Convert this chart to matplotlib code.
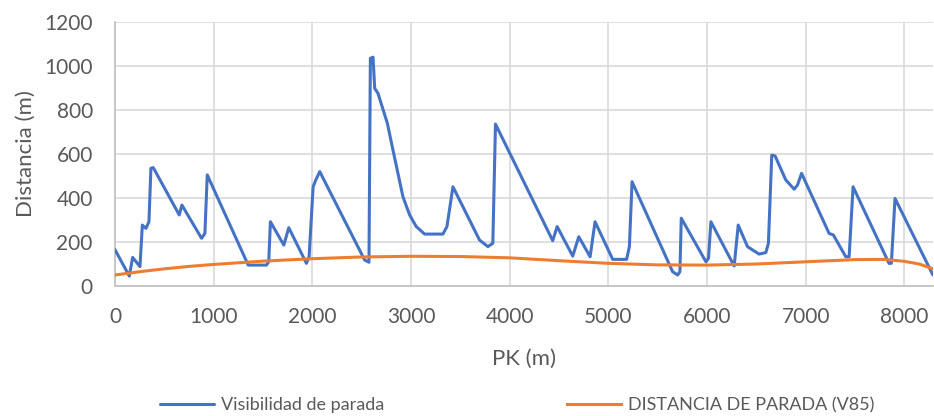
import matplotlib
matplotlib.use("Agg")
import matplotlib.pyplot as plt

pk_vis = [0, 145, 179, 253, 277, 314, 344, 364, 388, 651, 678, 877, 911, 935, 1350, 1535, 1558, 1575,
          1711, 1761, 1940, 1967, 2008, 2035, 2075, 2530, 2574, 2588, 2615, 2632, 2665, 2760, 2817, 2918,
          2986, 3053, 3138, 3323, 3364, 3425, 3694, 3779, 3829, 3856, 4436, 4481, 4639, 4700, 4815, 4865,
          5044, 5185, 5213, 5240, 5651, 5702, 5725, 5739, 5989, 6015, 6039, 6275, 6316, 6410, 6461, 6528,
          6596, 6622, 6656, 6690, 6798, 6883, 6917, 6958, 7237, 7280, 7406, 7440, 7480, 7844, 7868, 7905, 8289]
visibilidad = [165, 45, 130, 88, 277, 262, 292, 535, 538, 323, 368, 217, 239, 505, 95, 95, 110, 292,
               186, 265, 103, 133, 451, 482, 520, 118, 108, 1035, 1040, 898, 876, 740, 618, 406,
               323, 270, 236, 236, 270, 451, 209, 179, 194, 736, 206, 270, 136, 224, 133, 292,
               121, 121, 179, 474, 65, 50, 65, 308, 110, 126, 292, 91, 277, 179, 164, 145,
               152, 194, 595, 591, 482, 440, 459, 512, 239, 232, 133, 133, 451, 103, 103, 398, 50]

pk_dist = [0, 250, 500, 750, 1000, 1500, 2000, 2500, 3000, 3500, 4000, 4500, 5000, 5500, 6000, 6500,
           7000, 7500, 7800, 8000, 8150, 8290]
distancia = [50, 65, 78, 89, 98, 113, 124, 132, 135, 134, 128, 115, 103, 96, 95, 100,
             110, 120, 121, 112, 100, 78]

x_ticks = [0, 1000, 2000, 3000, 4000, 5000, 6000, 7000, 8000]
y_ticks = [0, 200, 400, 600, 800, 1000, 1200]

plt.rcParams['font.family'] = ['Lato', 'DejaVu Sans']

fig = plt.figure(figsize=(9.34, 4.16), dpi=100)
ax = fig.add_axes([115/934, 1 - 286/416, (933 - 115)/934, (286 - 22)/416])

blue = '#4472C4'
orange = '#ED7D31'
ax.plot(pk_vis, visibilidad, color=blue, lw=2.2, solid_joinstyle='round', solid_capstyle='round',
        label='Visibilidad de parada', zorder=3)
ax.plot(pk_dist, distancia, color=orange, lw=2.2, solid_joinstyle='round',
        label='DISTANCIA DE PARADA (V85)', zorder=4)

ax.set_xlim(0, 8290)
ax.set_ylim(0, 1200)
ax.set_xticks(x_ticks)
ax.set_yticks(y_ticks)
ax.grid(True, color='#d9d9d9', lw=1.2)
ax.set_axisbelow(True)
for s in ['top', 'right']:
    ax.spines[s].set_visible(False)
for s in ['left', 'bottom']:
    ax.spines[s].set_color('#bfbfbf')
    ax.spines[s].set_linewidth(1.2)
ax.tick_params(length=0, labelsize=15, colors='#595959')
ax.tick_params(axis='y', pad=16)
ax.tick_params(axis='x', pad=15)
ax.set_xlabel('PK (m)', fontsize=16, color='#595959', labelpad=16)
ax.set_ylabel('Distancia (m)', fontsize=16, color='#595959', labelpad=6)

leg = fig.legend(loc='center', bbox_to_anchor=(0.554, 1 - 405/416), ncol=2, frameon=False,
                 fontsize=13, handlelength=3.0, handletextpad=0.4, columnspacing=10.1)
for t in leg.get_texts():
    t.set_color('#595959')

fig.savefig('out.png', dpi=100)
